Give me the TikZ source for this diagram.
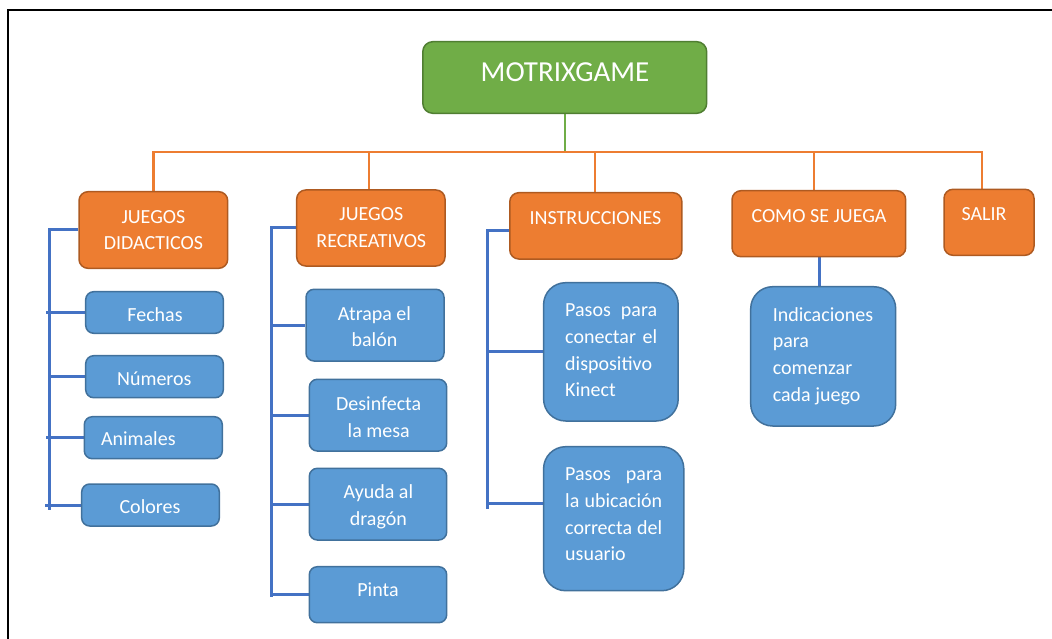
\documentclass[tikz,border=0pt]{standalone}
\usepackage{fontspec}
\setmainfont{Carlito}
\usetikzlibrary{fit,backgrounds}

\definecolor{orfill}{HTML}{ED7D31}
\definecolor{ordk}{HTML}{AE5A21}
\definecolor{blfill}{HTML}{5B9BD5}
\definecolor{bldk}{HTML}{41719C}
\definecolor{grfill}{HTML}{70AD47}
\definecolor{grdk}{HTML}{507E32}
\definecolor{linkblue}{HTML}{4472C4}

% stacked lines whose baseline is the baseline of the first line
\newcommand{\stk}[2]{\begin{tabular}[t]{@{}#1@{}}#2\end{tabular}}

\tikzset{
  gbox/.style={draw=grdk, fill=grfill, line width=1.5pt, rounded corners=10pt, inner sep=0pt},
  obox/.style={draw=ordk, fill=orfill, line width=1.5pt, rounded corners=9pt, inner sep=0pt},
  bbox/.style={draw=bldk, fill=blfill, line width=1.5pt, rounded corners=8pt, inner sep=0pt},
  tallbox/.style={bbox, rounded corners=22pt},
  lbl/.style={text=white, inner sep=0pt, anchor=base, font=\fontsize{20}{26.7}\selectfont},
  lblw/.style={lbl, anchor=base west},
  oline/.style={draw=orfill, line width=2.5pt},
  bline/.style={draw=linkblue, line width=3pt},
  gline/.style={draw=grfill, line width=2pt}
}

\begin{document}
\begin{tikzpicture}[x=1pt, y=-1pt]
\useasboundingbox (0,0) rectangle (1052,639);

% frame
\draw[black, line width=2pt] (8,639) -- (8,10.5) -- (1052,10.5);

% root
\node[gbox, fit={(422.8,41.7) (706.7,113.3)}] (title) {};
\node[lbl, font=\fontsize{29}{32}\selectfont] (titletxt) at (565,82) {MOTRIXGAME};

% main menu
\node[obox, fit={(79,191.7) (227.7,268.3)}] (jd) {};
\node[lbl] (jdtxt) at (153.4,223) {\stk{c}{JUEGOS\\DIDACTICOS}};
\node[obox, fit={(296.7,190) (445,266)}] (jr) {};
\node[lbl] (jrtxt) at (371.3,220.7) {\stk{c}{JUEGOS\\RECREATIVOS}};
\node[obox, fit={(509.8,192.7) (681.9,259)}] (ins) {};
\node[lbl] (instxt) at (595.5,225) {INSTRUCCIONES};
\node[obox, fit={(732,190.7) (905.7,256.7)}] (cj) {};
\node[lbl] (cjtxt) at (819,222.7) {COMO SE JUEGA};
\node[obox, fit={(944,189.3) (1034,255.3)}] (sal) {};
\node[lbl] (saltxt) at (984,221) {SALIR};

% didactic games
\node[bbox, fit={(85.7,291.7) (223.3,333.3)}] (fe) {};
\node[lbl] (fetxt) at (155,321.7) {Fechas};
\node[bbox, fit={(85.7,355.7) (223.3,397.7)}] (nu) {};
\node[lbl] (nutxt) at (154.3,385) {Números};
\node[bbox, fit={(84.3,416.7) (222.3,458.7)}] (an) {};
\node[lbl] (antxt) at (138.3,445.7) {Animales};
\node[bbox, fit={(81.7,484) (219.3,526)}] (co) {};
\node[lbl] (cotxt) at (150,513) {Colores};

% recreational games
\node[bbox, fit={(306,289.3) (444,361)}] (at) {};
\node[lbl] (attxt) at (374.5,320) {\stk{c}{Atrapa el\\balón}};
\node[bbox, fit={(309.3,379.3) (446.7,451)}] (de) {};
\node[lbl] (detxt) at (378.7,410.7) {\stk{c}{Desinfecta\\la mesa}};
\node[bbox, fit={(309.3,468.3) (446.7,540)}] (ay) {};
\node[lbl] (aytxt) at (378.4,498.3) {\stk{c}{Ayuda al\\dragón}};
\node[bbox, fit={(309.3,566.7) (446.7,622.7)}] (pi) {};
\node[lbl] (pitxt) at (378,596) {Pinta};

% instructions
\node[tallbox, fit={(543.6,282.7) (678.2,421)}] (p1) {};
\node[lblw] (p1txt) at (565,316.7) {\stk{l}{\makebox[92pt][s]{Pasos para}\\\makebox[92pt][s]{conectar el}\\dispositivo\\Kinect}};
\node[tallbox, fit={(543.6,446.7) (683.8,590.7)}] (p2) {};
\node[lblw] (p2txt) at (565,480.7) {\stk{l}{\makebox[97pt][s]{Pasos para}\\\makebox[97pt][s]{la ubicación}\\\makebox[97pt][s]{correcta del}\\usuario}};

% how to play
\node[tallbox, fit={(750.7,286.7) (895.7,426)}] (ind) {};
\node[lblw] (indtxt) at (772.6,321) {\stk{l}{Indicaciones\\para\\comenzar\\cada juego}};

\begin{pgfonlayer}{background}
  \coordinate (bus) at (565,152);
  \coordinate (s1) at (49.3,0);
  \coordinate (s2) at (271.7,0);
  \coordinate (s3) at (487.8,0);

  % root to menu
  \draw[gline] (title.south) -- (title.south |- bus);
  \draw[oline] (jd.north) -- (jd.north |- bus) -- ([xshift=-7pt]sal.north |- bus) -- ([xshift=-7pt]sal.north);
  \draw[oline] ([xshift=-2pt]jr.north) -- ([xshift=-2pt]jr.north |- bus);
  \draw[oline] ([xshift=-1pt]ins.north) -- ([xshift=-1pt]ins.north |- bus);
  \draw[oline] ([xshift=-5pt]cj.north) -- ([xshift=-5pt]cj.north |- bus);

  % didactic games
  \draw[bline] (jd.west) -- (jd.west -| s1) -- ([yshift=-5pt]co.west -| s1);
  \draw[bline] ([xshift=-3pt]fe.west -| s1) -- (fe.west);
  \draw[bline] (nu.west -| s1) -- (nu.west);
  \draw[bline] ([xshift=-3pt]an.west -| s1) -- (an.west);
  \draw[bline] ([xshift=-4pt]co.west -| s1) -- (co.west);

  % recreational games
  \draw[bline] (jr.west) -- (jr.west -| s2) -- ([yshift=-2pt]pi.west -| s2);
  \draw[bline] (at.west -| s2) -- (at.west);
  \draw[bline] (de.west -| s2) -- (de.west);
  \draw[bline] (ay.west -| s2) -- (ay.west);
  \draw[bline] (pi.west -| s2) -- (pi.west);

  % instructions
  \draw[bline] ([yshift=-5pt]ins.west) -- ([yshift=-5pt]ins.west -| s3) -- ([yshift=10pt]p2.west -| s3);
  \draw[bline] (p1.west -| s3) -- (p1.west);
  \draw[bline] ([yshift=15pt]p2.west -| s3) -- ([yshift=15pt]p2.west);

  % how to play
  \draw[bline] ([xshift=1pt]cj.south) -- ([xshift=1pt]cj.south |- ind.north);
\end{pgfonlayer}
\end{tikzpicture}
\end{document}
